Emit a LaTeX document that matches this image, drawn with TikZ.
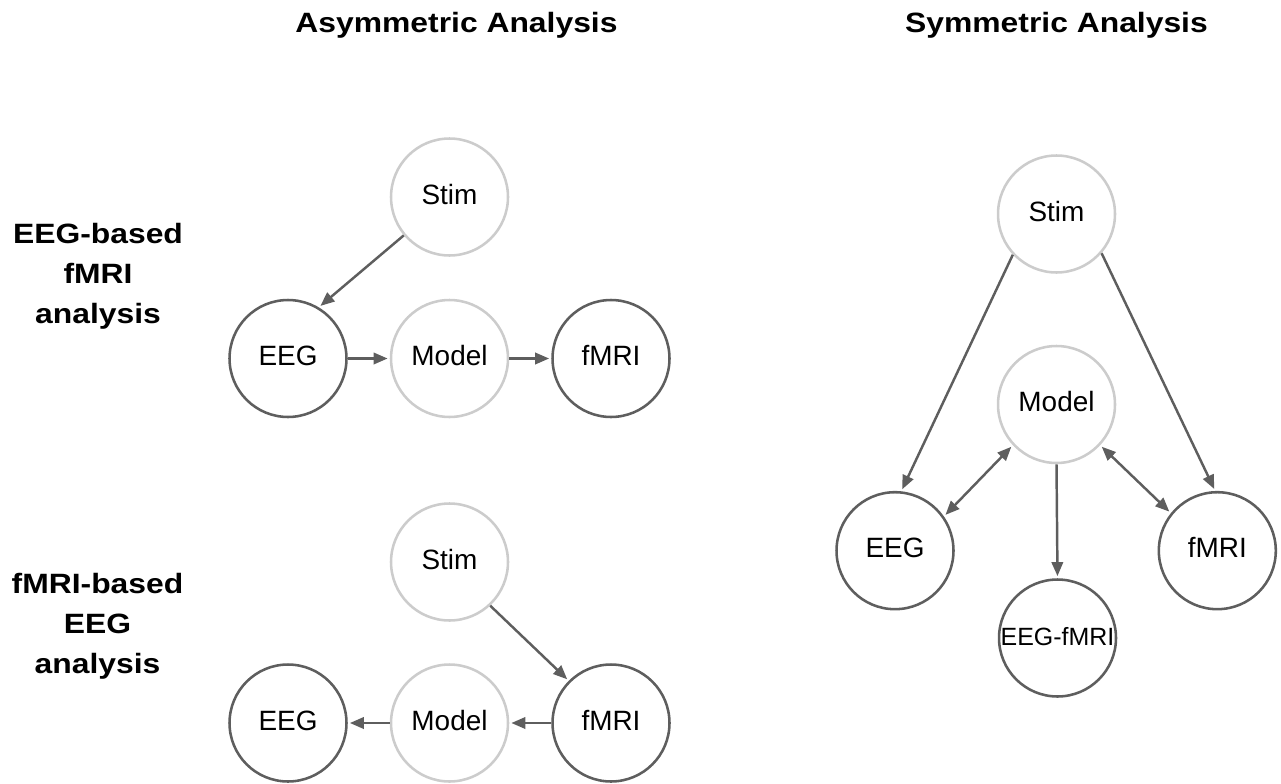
\documentclass[tikz,border=0pt]{standalone}
\usepackage{fontspec}
\setmainfont{Liberation Sans}
\newfontfamily\widebold{Liberation Sans Bold}[FakeStretch=1.14]
\usetikzlibrary{arrows.meta}
\definecolor{darkc}{HTML}{5E5E5E}
\definecolor{lightc}{HTML}{CCCCCC}
\definecolor{arrc}{HTML}{5E5E5E}
\begin{document}
\begin{tikzpicture}[x=0.02cm,y=-0.02cm,
  nd/.style={circle,minimum size=2.34cm,inner sep=0pt,line width=1.45pt,
    font=\fontsize{15.9}{18}\selectfont,text height=11.4pt,text depth=3.3pt},
  lt/.style={nd,draw=lightc},
  dk/.style={nd,draw=darkc},
  arr/.style={draw=arrc,line width=1.4pt,-{Triangle[length=8pt,width=6.5pt]},shorten >=1.2pt},
  barr/.style={draw=arrc,line width=1.4pt,{Triangle[length=8pt,width=6.5pt]}-{Triangle[length=8pt,width=6.5pt]},shorten >=1.2pt,shorten <=1.2pt},
  ttl/.style={font=\fontsize{15.9}{18}\selectfont\widebold,anchor=base},
  side/.style={font=\fontsize{15.9}{22.7}\selectfont\widebold,align=center}]
\useasboundingbox (0,0) rectangle (1281,784);

% titles
\node[ttl] (t1) at (456.5,32.5) {Asymmetric Analysis};
\node[ttl] (t2) at (1056.5,32.5) {Symmetric Analysis};

% side labels
\node[side] (l1) at (98,276) {EEG-based\\fMRI\\analysis};
\node[side] (l2) at (97.5,626) {fMRI-based\\EEG\\analysis};

% top-left
\node[lt] (s1) at (449.5,197) {Stim};
\node[dk] (e1) at (288,358.5) {EEG};
\node[lt] (m1) at (449.5,358.5) {Model};
\node[dk] (f1) at (611,358.5) {fMRI};
\draw[arr] (s1.220.7) -- (e1.59.7);
\draw[arr] (e1.east) -- (m1.west);
\draw[arr] (m1.east) -- (f1.west);

% bottom-left
\node[lt] (s2) at (449.5,562) {Stim};
\node[dk] (e2) at (288,723) {EEG};
\node[lt] (m2) at (449.5,723) {Model};
\node[dk] (f2) at (611,723) {fMRI};
\draw[arr] (s2.313.7) -- (f2.135);
\draw[arr] (f2.west) -- (m2.east);
\draw[arr] (m2.west) -- (e2.east);

% right
\node[lt] (s3) at (1056.5,214) {Stim};
\node[lt] (m3) at (1056.5,404.5) {Model};
\node[dk] (e3) at (895,550.7) {EEG};
\node[dk] (f3) at (1217.3,550.7) {fMRI};
\node[dk,font=\fontsize{14.2}{17}\selectfont] (ef) at (1057.5,638) {EEG-fMRI};
\draw[arr] (s3.223.8) -- (e3.84);
\draw[arr] (s3.319.6) -- (f3.92.8);
\draw[barr] (m3.223.9) -- (e3.35.5);
\draw[barr] (m3.317.4) -- (f3.141.7);
\draw[arr] (m3.south) -- (ef.north);
\end{tikzpicture}
\end{document}
